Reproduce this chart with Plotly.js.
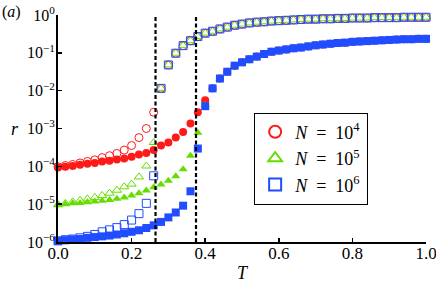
<!DOCTYPE html>
<html>
<head>
<meta charset="utf-8">
<script src="https://cdn.plot.ly/plotly-3.0.1.min.js"></script>
<style>html,body{margin:0;padding:0;background:#fff;}#chart{width:436px;height:283px;}</style>
</head>
<body>
<div id="chart"></div>
<script>
// Temperature grid
var T = [0.00,0.02,0.04,0.06,0.08,0.10,0.12,0.14,0.16,0.18,0.20,0.22,0.24,0.26,0.28,0.30,0.32,0.34,0.36,0.38,0.40,
         0.42,0.44,0.46,0.48,0.50,0.52,0.54,0.56,0.58,0.60,0.62,0.64,0.66,0.68,0.70,0.72,0.74,0.76,0.78,0.80,
         0.82,0.84,0.86,0.88,0.90,0.92,0.94,0.96,0.98,1.00];

// Open markers, T = 0 .. 0.26
var openN4  = [9.77e-5,1.05e-4,1.12e-4,1.23e-4,1.35e-4,1.48e-4,1.70e-4,1.91e-4,2.19e-4,2.69e-4,3.55e-4,5.75e-4,1.00e-3,2.69e-3];
var openN5  = [9.77e-6,1.05e-5,1.15e-5,1.26e-5,1.38e-5,1.51e-5,1.70e-5,1.95e-5,2.34e-5,2.88e-5,3.39e-5,5.25e-5,1.02e-4,4.27e-4];
var openN6  = [1.07e-6,1.15e-6,1.20e-6,1.29e-6,1.41e-6,1.58e-6,1.86e-6,2.09e-6,2.40e-6,2.88e-6,3.80e-6,5.62e-6,1.05e-5,5.62e-5];
// Open markers, common curve, T = 0.28 .. 1.0
var openHigh = [0.0115,0.0479,0.0977,0.155,0.209,0.269,0.331,0.372,0.427,0.479,0.537,0.575,0.617,0.646,0.661,0.692,0.708,0.724,0.741,
                0.759,0.776,0.776,0.794,0.794,0.813,0.813,0.832,0.832,0.832,0.851,0.851,0.851,0.851,0.871,0.871,0.871,0.871];

// Filled markers, T = 0 .. 0.40
var fillN4 = [9.33e-5,9.77e-5,1.02e-4,1.10e-4,1.17e-4,1.23e-4,1.35e-4,1.41e-4,1.51e-4,1.62e-4,1.78e-4,2.04e-4,2.24e-4,2.69e-4,3.55e-4,4.27e-4,5.75e-4,8.13e-4,1.35e-3,2.69e-3,5.62e-3];
var fillN5 = [9.33e-6,1.00e-5,1.05e-5,1.07e-5,1.12e-5,1.17e-5,1.23e-5,1.29e-5,1.38e-5,1.51e-5,1.70e-5,1.95e-5,2.29e-5,2.82e-5,3.31e-5,4.17e-5,5.50e-5,8.32e-5,1.91e-4,7.76e-4,4.17e-3];
var fillN6 = [1.07e-6,1.12e-6,1.17e-6,1.20e-6,1.29e-6,1.35e-6,1.41e-6,1.48e-6,1.58e-6,1.70e-6,1.86e-6,2.04e-6,2.34e-6,2.75e-6,3.39e-6,4.47e-6,6.03e-6,9.12e-6,2.19e-5,2.95e-4,3.89e-3];
// Filled markers, common curve, T = 0.42 .. 1.0
var fillHigh = [0.0115,0.0209,0.0316,0.0457,0.0562,0.0676,0.0794,0.0933,0.107,0.115,0.123,0.132,0.138,0.148,0.158,
                0.166,0.174,0.182,0.186,0.195,0.200,0.204,0.209,0.214,0.219,0.224,0.229,0.229,0.234,0.234];

// Critical temperatures (dashed lines)
var Tc = [0.265, 0.375];

var legendNames = ['<i>N</i>  =  10<sup>4</sup>', '<i>N</i>  =  10<sup>5</sup>', '<i>N</i>  =  10<sup>6</sup>'];
var colors = ['#ff1a1a', '#66dd00', '#1f4dff'];
var yTickVals = [1e-6,1e-5,1e-4,1e-3,1e-2,1e-1,1];
var yTickText = ['10<sup>−6</sup>','10<sup>−5</sup>','10<sup>−4</sup>','10<sup>−3</sup>','10<sup>−2</sup>','10<sup>−1</sup>','10<sup>0</sup>'];
var xTickVals = [0,0.2,0.4,0.6,0.8,1.0];
var xTickText = ['0.0','0.2','0.4','0.6','0.8','1.0'];

var FONT = 'Liberation Serif';
var openSym = ['circle-open','triangle-up-open','square-open'];
var fillSym = ['circle','triangle-up','square'];
var openSets = [openN4, openN5, openN6];
var fillSets = [fillN4, fillN5, fillN6];

var traces = [];
for (var i = 0; i < 3; i++) {
  var y = openSets[i].concat(openHigh);
  traces.push({
    x: T.slice(0, y.length), y: y, type: 'scatter', mode: 'markers',
    name: legendNames[i], showlegend: true, cliponaxis: false,
    marker: {symbol: openSym[i], size: 8, color: colors[i], line: {width: 1, color: colors[i]}}
  });
}
for (var j = 0; j < 3; j++) {
  var yf = fillSets[j].concat(fillHigh);
  traces.push({
    x: T.slice(0, yf.length), y: yf, type: 'scatter', mode: 'markers',
    showlegend: false, cliponaxis: false,
    marker: {symbol: fillSym[j], size: 8, color: colors[j], line: {width: 0}}
  });
}

var shapes = Tc.map(function (t) {
  return {type: 'line', xref: 'x', yref: 'paper', x0: t, x1: t, y0: 0, y1: 1,
          line: {color: 'black', width: 2.2, dash: '4px,2.5px'}, layer: 'above'};
});

var layout = {
  width: 436, height: 283,
  margin: {l: 58, r: 10, t: 15, b: 41},
  paper_bgcolor: 'white', plot_bgcolor: 'white',
  font: {family: FONT, size: 16, color: 'black'},
  showlegend: true,
  legend: {x: 0.533, y: 0.57, xanchor: 'left', yanchor: 'top',
           bordercolor: 'black', borderwidth: 1, bgcolor: 'white',
           font: {family: FONT, size: 18}, tracegroupgap: 0, itemsizing: 'constant'},
  xaxis: {range: [0, 1], showline: true, linecolor: 'black', linewidth: 2,
          ticks: 'inside', ticklen: 4, tickwidth: 1.5, tickcolor: 'black',
          tickvals: xTickVals, ticktext: xTickText, showgrid: false, zeroline: false,
          ticklabeloverflow: 'allow', ticklabelstandoff: -5, mirror: false, tickfont: {family: FONT, size: 17},
          title: {text: '<i>T</i>', font: {family: FONT, size: 18}, standoff: 6}},
  yaxis: {type: 'log', range: [-6, 0], showline: true, linecolor: 'black', linewidth: 2,
          ticks: 'inside', ticklen: 4, tickwidth: 1.5, tickcolor: 'black',
          tickvals: yTickVals, ticktext: yTickText, showgrid: false, zeroline: false,
          ticklabeloverflow: 'allow', ticklabelstandoff: -2, tickfont: {family: FONT, size: 16}},
  shapes: shapes,
  annotations: [
    {xref: 'paper', yref: 'paper', x: -0.158, y: 1.062, xanchor: 'left', yanchor: 'top',
     text: '(<i>a</i>)', showarrow: false, font: {family: FONT, size: 16}},
    {xref: 'paper', yref: 'paper', x: -0.117, y: 0.50, xanchor: 'center', yanchor: 'middle',
     text: '<i>r</i>', showarrow: false, font: {family: FONT, size: 18}}
  ]
};

Plotly.newPlot('chart', traces, layout, {staticPlot: true, displayModeBar: false});
</script>
</body>
</html>
